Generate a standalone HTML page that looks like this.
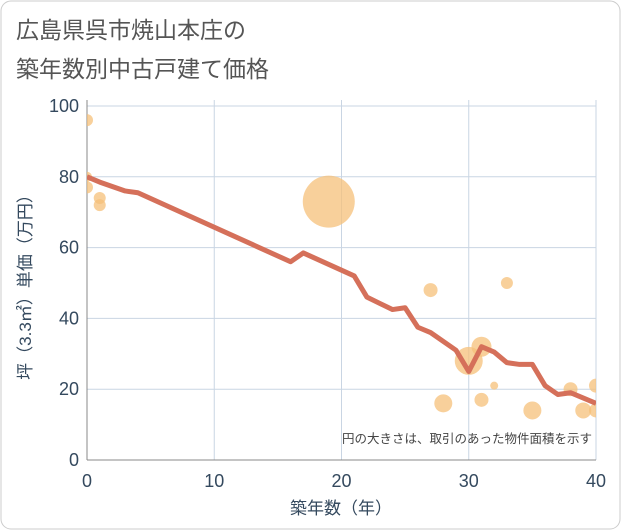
<!DOCTYPE html>
<html><head><meta charset="utf-8"><style>
body{margin:0;background:#fff;font-family:"Liberation Sans","Noto Sans CJK JP",sans-serif}
</style></head><body>
<svg width="621" height="530" viewBox="0 0 621 530" style="display:block">
<rect x="1" y="1" width="619" height="528" rx="10" fill="#fff" stroke="#ccc"/>
<text x="16" y="38" font-size="23" fill="#555" font-family="Liberation Sans,Noto Sans CJK JP,sans-serif">広島県呉市焼山本庄の</text>
<text x="16" y="77" font-size="23" fill="#555" font-family="Liberation Sans,Noto Sans CJK JP,sans-serif">築年数別中古戸建て価格</text>
<g id="grid"></g>
<g id="axes"></g>
<g id="marks" clip-path="url(#clip)"></g>
<defs><clipPath id="clip"><rect x="87" y="100" width="509" height="360"/></clipPath></defs>
<text x="592" y="443" font-size="12.5" fill="#444" text-anchor="end" font-family="Liberation Sans,Noto Sans CJK JP,sans-serif">円の大きさは、取引のあった物件面積を示す</text>
<text x="341" y="514" font-size="17" fill="#34495e" text-anchor="middle" font-family="Liberation Sans,Noto Sans CJK JP,sans-serif">築年数（年）</text>
<text transform="translate(31,283) rotate(-90)" font-size="17" fill="#34495e" text-anchor="middle" font-family="Liberation Sans,Noto Sans CJK JP,sans-serif">坪（3.3㎡）単価（万円）</text>
</svg>
<script>
const xTicks=[0,10,20,30,40];
const yTicks=[0,20,40,60,80,100];
const lineX=[0,1,3,4,16,17,21,22,24,25,26,27,29,30,31,32,33,34,35,36,37,38,40];
const lineY=[80,78.5,76,75.5,56,58.5,52,46,42.5,43,37.5,36,31,25,32,30.5,27.5,27,27,21,18.5,19,16];
const bubX=[0,0,0,1,1,19,27,30,31,32,33,28,31,35,38,39,40,40];
const bubY=[96,80,77,74,72,73,48,28,32,21,50,16,17,14,20,14,21,14];
const bubR=[6,5,6,6,6,26,7,14,10,4,6,9,7,9,7,8,7,7];
const NS="http://www.w3.org/2000/svg";
const X=v=>87+v*(596-87)/40, Y=v=>460-v*3.54;
function mk(t,a,p){const e=document.createElementNS(NS,t);for(const k in a)e.setAttribute(k,a[k]);p.appendChild(e);return e;}
const g=document.getElementById('grid'),ax=document.getElementById('axes'),m=document.getElementById('marks');
xTicks.forEach(v=>{const l=mk('line',{x1:X(v),x2:X(v),y1:100,y2:460,stroke:'#c9d5e3'},g);

const t=mk('text',{x:X(v),y:487,'font-size':18,fill:'#34495e','text-anchor':'middle'},ax);t.textContent=v;
});
yTicks.forEach(v=>{const l=mk('line',{x1:87,x2:596,y1:Y(v),y2:Y(v),stroke:'#c9d5e3'},g);

const t=mk('text',{x:79,y:Y(v)+6,'font-size':18,fill:'#34495e','text-anchor':'end'},ax);t.textContent=v;
});
const a1=mk('line',{x1:87,x2:87,y1:100,y2:460,stroke:'#888'},ax);

const a2=mk('line',{x1:87,x2:596,y1:460,y2:460,stroke:'#888'},ax);

bubX.forEach((v,i)=>{const c=mk('circle',{cx:X(v),cy:Y(bubY[i]),r:bubR[i],fill:'#f5c07a','fill-opacity':0.75},m);
});
const p=mk('polyline',{points:lineX.map((v,i)=>X(v)+','+Y(lineY[i])).join(' '),fill:'none',stroke:'#d5705a','stroke-width':5,'stroke-linejoin':'round'},m);

</script>
</body></html>
